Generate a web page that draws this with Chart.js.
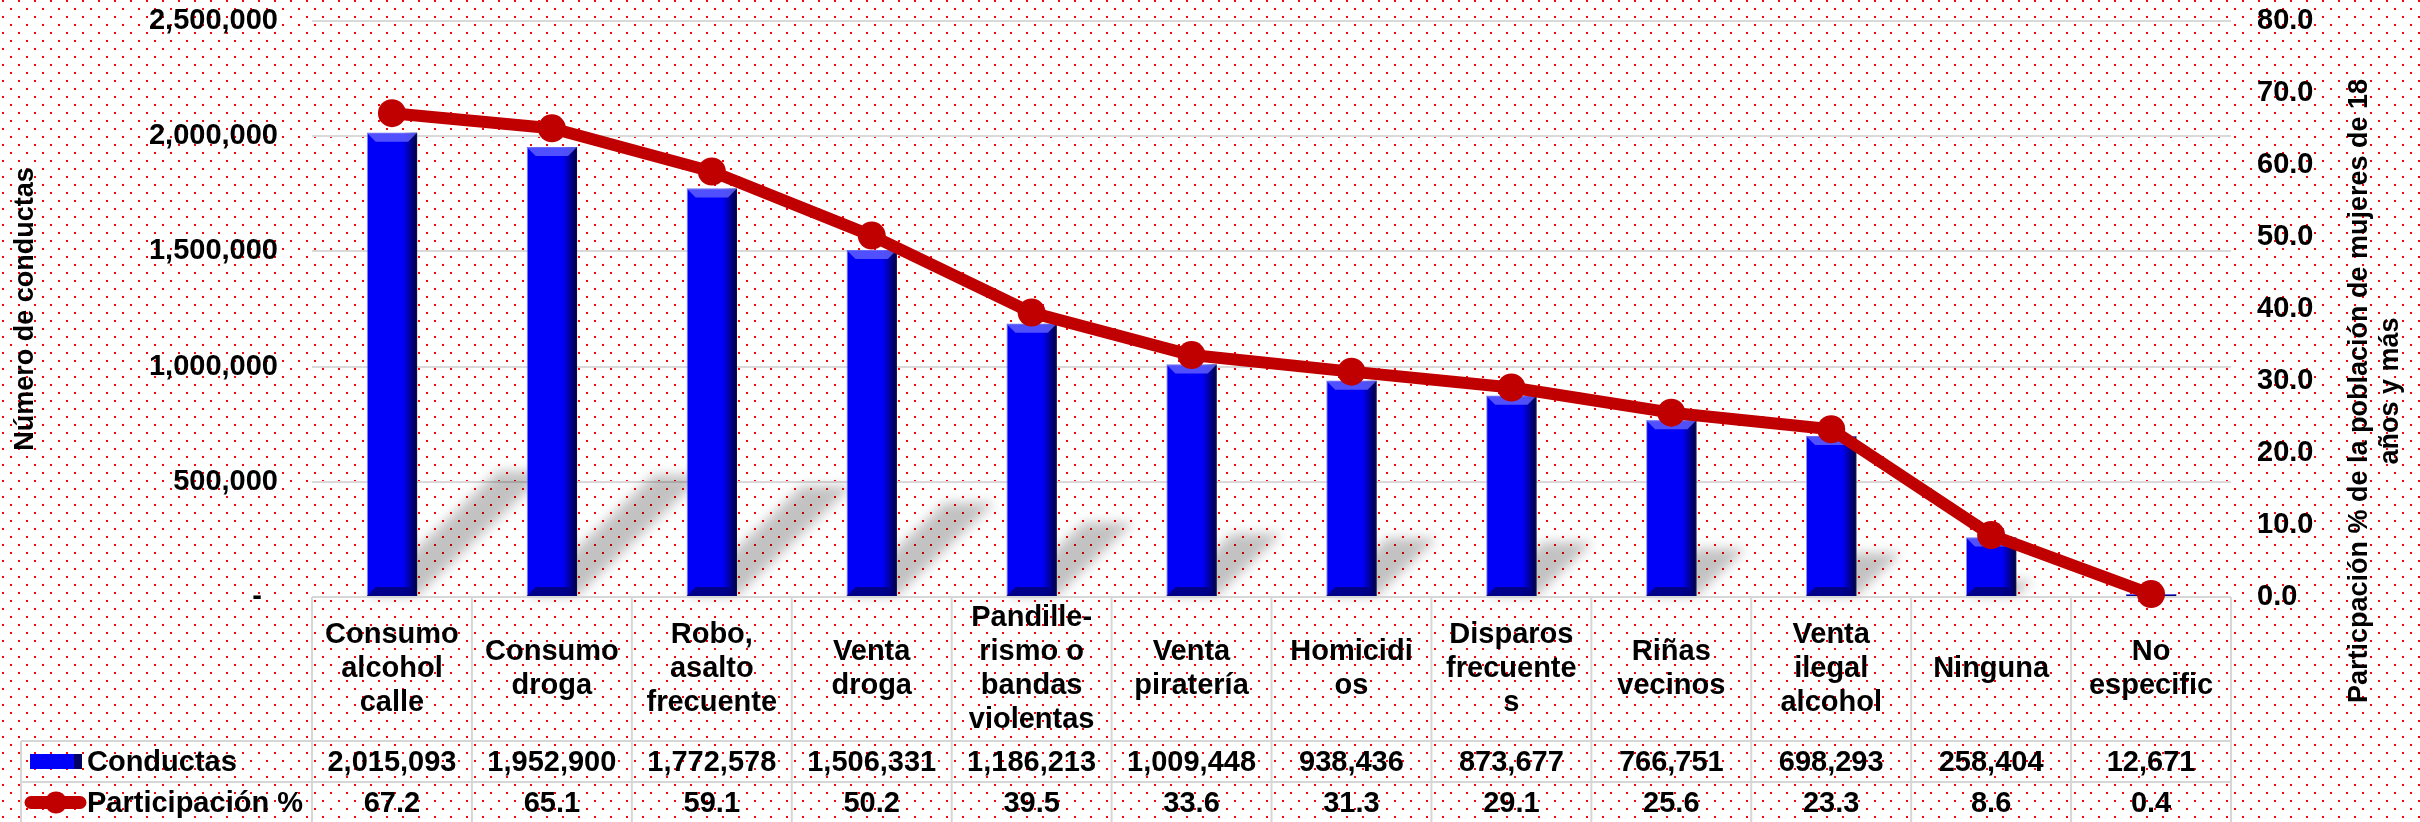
<!DOCTYPE html>
<html>
<head>
<meta charset="utf-8">
<script src="https://cdn.jsdelivr.net/npm/chart.js"></script>
<style>
  html, body { margin: 0; padding: 0; background: #fff; }
  #wrap { width: 2420px; height: 822px; }
</style>
</head>
<body>
<div id="wrap"><canvas id="chart" width="2420" height="822"></canvas></div>
<script>
// categories, already split the way the table cells wrap them
const CATEGORIES = [
  ["Consumo", "alcohol", "calle"],
  ["Consumo", "droga"],
  ["Robo,", "asalto", "frecuente"],
  ["Venta", "droga"],
  ["Pandille-", "rismo o", "bandas", "violentas"],
  ["Venta", "piratería"],
  ["Homicidi", "os"],
  ["Disparos", "frecuente", "s"],
  ["Riñas", "vecinos"],
  ["Venta", "ilegal", "alcohol"],
  ["Ninguna"],
  ["No", "especific"],
];

const CONDUCTAS = [
  2015093, 1952900, 1772578, 1506331, 1186213, 1009448,
  938436, 873677, 766751, 698293, 258404, 12671,
];

const PARTICIPACION = [67.2, 65.1, 59.1, 50.2, 39.5, 33.6, 31.3, 29.1, 25.6, 23.3, 8.6, 0.4];

const SERIES_NAMES = ["Conductas", "Participación %"];

const LEFT_TICKS = [0, 500000, 1000000, 1500000, 2000000, 2500000];
const RIGHT_TICKS = [0, 10, 20, 30, 40, 50, 60, 70, 80];

const LEFT_TITLE = "Número de conductas";
const RIGHT_TITLE = ["Particpación % de la población de mujeres de 18", "años y más"];

const FONT = "'Liberation Sans', Arial, sans-serif";
const RED = "#C00000";
const BLUE = "#0000F8";

// red dotted paper behind everything
const dotTile = (() => {
  const c = document.createElement("canvas");
  c.width = 16;
  c.height = 16;
  const g = c.getContext("2d");
  g.fillStyle = "#ff0000";
  g.fillRect(2, 0, 2, 2);
  g.fillRect(10, 8, 2, 2);
  return c;
})();

const backgroundPlugin = {
  id: "dottedBackground",
  beforeDraw(chart) {
    const { ctx, width, height } = chart;
    ctx.save();
    ctx.fillStyle = "#ffffff";
    ctx.fillRect(0, 0, width, height);
    ctx.fillStyle = ctx.createPattern(dotTile, "repeat");
    ctx.fillRect(0, 0, width, height);
    ctx.restore();
  },
};

// soft slanted shadows cast by the bars
const barShadowPlugin = {
  id: "barShadow",
  beforeDatasetsDraw(chart) {
    const meta = chart.getDatasetMeta(1);
    const ctx = chart.ctx;
    ctx.save();
    ctx.filter = "blur(6px)";
    ctx.fillStyle = "rgba(0,0,0,0.24)";
    meta.data.forEach((bar) => {
      const h = bar.base - bar.y;
      const dy = h * 0.27;
      const dx = dy * 1.05;
      const x0 = bar.x - bar.width / 2;
      const x1 = bar.x + bar.width / 2;
      ctx.beginPath();
      ctx.moveTo(x0, bar.base);
      ctx.lineTo(x1, bar.base);
      ctx.lineTo(x1 + dx, bar.base - dy);
      ctx.lineTo(x0 + dx, bar.base - dy);
      ctx.closePath();
      ctx.fill();
    });
    ctx.restore();
  },
};

// bevel look on the bars
const bevelPlugin = {
  id: "bevel",
  afterDatasetDraw(chart, args) {
    if (args.meta.type !== "bar") return;
    const ctx = chart.ctx;
    ctx.save();
    args.meta.data.forEach((bar) => {
      const x0 = bar.x - bar.width / 2;
      const x1 = bar.x + bar.width / 2;
      const y = bar.y;
      const base = bar.base;
      const h = base - y;
      if (h < 1) return;
      const b = Math.min(9, h / 2, bar.width / 2);

      const gr = ctx.createLinearGradient(x1 - 14, 0, x1, 0);
      gr.addColorStop(0, "rgba(0,0,50,0)");
      gr.addColorStop(1, "rgba(0,0,50,0.95)");
      ctx.fillStyle = gr;
      ctx.fillRect(x1 - 14, y, 14, h);

      ctx.fillStyle = "rgba(100,100,255,0.8)";
      ctx.beginPath();
      ctx.moveTo(x0, y);
      ctx.lineTo(x1, y);
      ctx.lineTo(x1 - b, y + b);
      ctx.lineTo(x0 + b, y + b);
      ctx.closePath();
      ctx.fill();

      ctx.fillStyle = "rgba(0,0,120,0.85)";
      ctx.beginPath();
      ctx.moveTo(x0, base);
      ctx.lineTo(x1, base);
      ctx.lineTo(x1 - b, base - b);
      ctx.lineTo(x0 + b, base - b);
      ctx.closePath();
      ctx.fill();
    });
    ctx.restore();
  },
};

// data table under the plot (category row + one row per series)
const dataTablePlugin = {
  id: "dataTable",
  beforeDatasetsDraw(chart) {
    const { ctx, chartArea } = chart;
    const xs = chart.scales.x;
    const n = CATEGORIES.length;
    const colW = (chartArea.right - chartArea.left) / n;
    const top = chartArea.bottom;
    const headerBottom = top + 144;
    const row1Bottom = headerBottom + 41;
    const bottom = chart.height;
    const labelLeft = 21;

    ctx.save();
    ctx.strokeStyle = "#d6d6d6";
    ctx.lineWidth = 2;
    const line = (ax, ay, bx, by) => {
      ctx.beginPath();
      ctx.moveTo(ax, ay);
      ctx.lineTo(bx, by);
      ctx.stroke();
    };
    line(chartArea.left, top, chartArea.right, top);
    line(labelLeft, headerBottom, chartArea.right, headerBottom);
    line(labelLeft, row1Bottom, chartArea.right, row1Bottom);
    line(labelLeft, headerBottom, labelLeft, bottom);
    for (let i = 0; i <= n; i++) {
      const x = xs.getPixelForValue(Math.min(i, n - 1)) + (i === n ? colW / 2 : -colW / 2);
      line(x, top, x, bottom);
    }

    ctx.fillStyle = "#000";
    ctx.font = `bold 29px ${FONT}`;
    ctx.textAlign = "center";
    ctx.textBaseline = "middle";
    const headerMid = (top + headerBottom) / 2;
    const row1Mid = (headerBottom + row1Bottom) / 2;
    const row2Mid = row1Bottom + 20.5;
    const lh = 34;
    CATEGORIES.forEach((lines, i) => {
      const cx = xs.getPixelForValue(i);
      const y0 = headerMid - ((lines.length - 1) * lh) / 2;
      lines.forEach((t, k) => ctx.fillText(t, cx, y0 + k * lh));
      ctx.fillText(CONDUCTAS[i].toLocaleString("en-US"), cx, row1Mid + 1);
      ctx.fillText(PARTICIPACION[i].toFixed(1), cx, row2Mid + 1);
    });

    // legend keys
    const kx = labelLeft + 9;
    ctx.fillStyle = BLUE;
    ctx.fillRect(kx, row1Mid - 7.5, 52, 15);
    ctx.fillStyle = "rgba(0,0,60,0.8)";
    ctx.fillRect(kx + 44, row1Mid - 7.5, 8, 15);
    ctx.strokeStyle = RED;
    ctx.lineWidth = 13;
    ctx.lineCap = "round";
    line(labelLeft + 10, row2Mid, labelLeft + 59, row2Mid);
    ctx.fillStyle = RED;
    ctx.beginPath();
    ctx.arc(labelLeft + 35, row2Mid, 11, 0, Math.PI * 2);
    ctx.fill();

    ctx.fillStyle = "#000";
    ctx.textAlign = "left";
    ctx.fillText(SERIES_NAMES[0], labelLeft + 66, row1Mid + 1);
    ctx.fillText(SERIES_NAMES[1], labelLeft + 66, row2Mid + 1);
    ctx.restore();
  },
};

// right axis title reads bottom to top, on two lines
const rightTitlePlugin = {
  id: "rightTitle",
  afterDraw(chart) {
    const { ctx, chartArea } = chart;
    const cx = chart.width - 44.5;
    const cy = (chartArea.top + chartArea.bottom) / 2 + 82;
    ctx.save();
    ctx.translate(cx, cy);
    ctx.rotate(-Math.PI / 2);
    ctx.fillStyle = "#000";
    ctx.font = `bold 27px ${FONT}`;
    ctx.textAlign = "center";
    ctx.textBaseline = "middle";
    ctx.fillText(RIGHT_TITLE[0], 0, -15.5);
    ctx.fillText(RIGHT_TITLE[1], 0, 15.5);
    ctx.restore();
  },
};

Chart.defaults.font.family = FONT;
Chart.defaults.font.size = 29;
Chart.defaults.font.weight = "bold";
Chart.defaults.color = "#000";

new Chart(document.getElementById("chart"), {
  type: "bar",
  data: {
    labels: CATEGORIES,
    datasets: [
      {
        type: "line",
        label: SERIES_NAMES[1],
        data: PARTICIPACION,
        yAxisID: "y1",
        borderColor: RED,
        borderWidth: 12,
        borderJoinStyle: "round",
        borderCapStyle: "round",
        pointRadius: 14,
        pointBackgroundColor: RED,
        pointBorderWidth: 0,
        tension: 0,
        clip: false,
        order: 0,
      },
      {
        type: "bar",
        label: SERIES_NAMES[0],
        data: CONDUCTAS,
        yAxisID: "y",
        backgroundColor: BLUE,
        borderColor: "rgba(130,130,220,0.9)",
        borderWidth: 1,
        barPercentage: 0.315,
        categoryPercentage: 1,
        order: 1,
      },
    ],
  },
  options: {
    responsive: false,
    animation: false,
    devicePixelRatio: 1,
    layout: { padding: { top: 21, bottom: 225, left: 0, right: 0 } },
    plugins: {
      legend: { display: false },
      tooltip: { enabled: false },
    },
    scales: {
      x: { display: false },
      y: {
        position: "left",
        min: 0,
        max: 2500000,
        afterBuildTicks: (scale) => {
          scale.ticks = LEFT_TICKS.map((v) => ({ value: v }));
        },
        afterFit: (scale) => {
          scale.width = 312;
          scale.paddingTop = 0;
          scale.paddingBottom = 0;
        },
        grid: { color: "#d9d9d9", lineWidth: 2, drawTicks: false },
        border: { display: false },
        ticks: {
          padding: 34,
          callback: (v) => (v === 0 ? "-  " : v.toLocaleString("en-US")),
        },
        title: {
          display: true,
          text: LEFT_TITLE,
          font: { size: 27, weight: "bold" },
          padding: { top: 9, bottom: 0 },
        },
      },
      y1: {
        position: "right",
        min: 0,
        max: 80,
        afterBuildTicks: (scale) => {
          scale.ticks = RIGHT_TICKS.map((v) => ({ value: v }));
        },
        afterFit: (scale) => {
          scale.width = 189;
          scale.paddingTop = 0;
          scale.paddingBottom = 0;
        },
        grid: { display: false, drawTicks: false },
        border: { display: false },
        ticks: {
          padding: 26,
          callback: (v) => v.toFixed(1),
        },
      },
    },
  },
  plugins: [backgroundPlugin, barShadowPlugin, dataTablePlugin, bevelPlugin, rightTitlePlugin],
});
</script>
</body>
</html>
